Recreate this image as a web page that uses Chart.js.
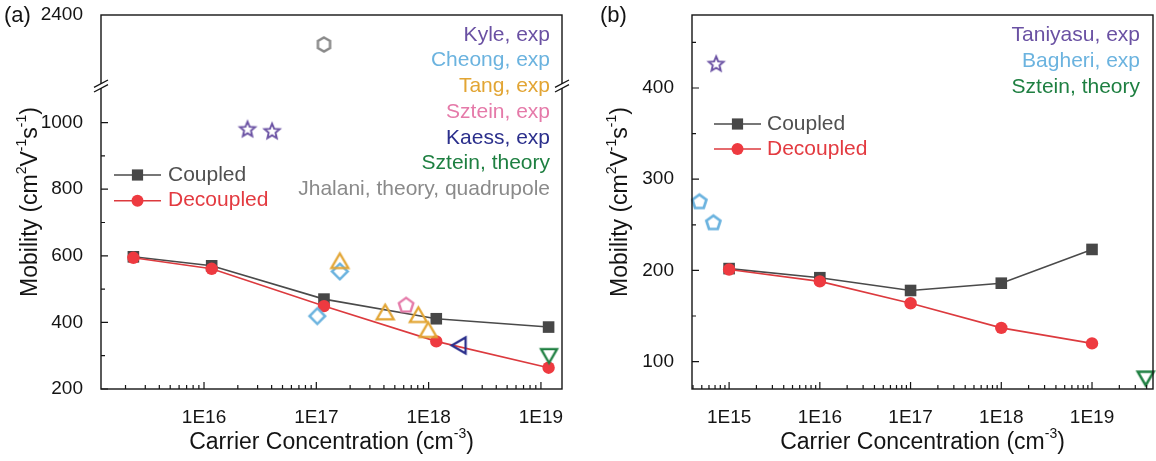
<!DOCTYPE html>
<html>
<head>
<meta charset="utf-8">
<script src="https://cdn.jsdelivr.net/npm/chart.js@4.4.1/dist/chart.umd.min.js"></script>
<style>
    html, body { margin: 0; padding: 0; background: #fff; }
    #wrap { position: relative; width: 1156px; height: 461px; }
    .panel { position: absolute; top: 0; width: 578px; height: 461px; }
</style>
</head>
<body>
<div id="wrap">
    <div class="panel" style="left:0"><canvas id="chartA" width="578" height="461"></canvas></div>
    <div class="panel" style="left:578px"><canvas id="chartB" width="578" height="461"></canvas></div>
</div>
<script>
// ---- panel (a) ----
const concA = [2.35e15, 1.17e16, 1.17e17, 1.17e18, 1.17e19];
const coupledA = [597, 570, 470, 411, 386];
const decoupledA = [594, 561, 449, 343, 264];

const kyleX = [2.44e16, 4.04e16];        const kyleY = [979, 973];
const cheongX = [1.02e17, 1.62e17];      const cheongY = [419, 553];
const tangX = [1.62e17, 4.1e17, 8.1e17, 9.9e17];
const tangY = [578, 424, 416, 371];
const szteinExpX = [6.3e17];             const szteinExpY = [451];
const kaessX = [1.94e18];                const kaessY = [331];
const szteinThX = [1.18e19];             const szteinThY = [306];
const jhalaniX = [1.17e17];              const jhalaniY = [2317];

const xTicksA = [1e16, 1e17, 1e18, 1e19];
const xTickLabelsA = ['1E16', '1E17', '1E18', '1E19'];
const yTicksA = [200, 400, 600, 800, 1000];
const yMinorA = [300, 500, 700, 900];
const yTicksTopA = [2400];

// ---- panel (b) ----
const concB = [1e15, 1e16, 1e17, 1e18, 1e19];
const coupledB = [202, 192, 178, 186, 223];
const decoupledB = [201, 188, 164, 137, 120];

const taniyasuX = [7.2e14];              const taniyasuY = [426];
const bagheriX = [4.7e14, 6.7e14];       const bagheriY = [275, 252];
const szteinThBX = [3.9e19];             const szteinThBY = [84];

const xTicksB = [1e15, 1e16, 1e17, 1e18, 1e19];
const xTickLabelsB = ['1E15', '1E16', '1E17', '1E18', '1E19'];
const yTicksB = [100, 200, 300, 400];
const yMinorB = [150, 250, 350, 450];

const FONT = "'Liberation Sans', Arial, Helvetica, sans-serif";
const INK = '#141414';
const C_PURPLE = '#6a51a3';
const C_LBLUE = '#6bb3df';
const C_GOLD = '#e2a534';
const C_PINK = '#e57aa9';
const C_NAVY = '#2b2f8c';
const C_GREEN = '#1e7f41';
const C_GRAY = '#8a8a8a';
const C_DARK = '#4a4a4a';
const C_RED = '#ee3a40';

function pts(xs, ys) {
    return xs.map((x, i) => ({ x: x, y: ys[i] }));
}

function minorLog(min, max) {
    const out = [];
    for (let e = Math.floor(Math.log10(min)); e <= Math.ceil(Math.log10(max)); e++) {
        for (let k = 2; k <= 9; k++) {
            const v = k * Math.pow(10, e);
            if (v > min && v < max) out.push(v);
        }
    }
    return out;
}

// hollow marker drawn on a small canvas, used as pointStyle
function marker(kind, color, r, lw) {
    const s = Math.ceil(2 * r + 2 * lw + 4);
    const c = document.createElement('canvas');
    c.width = s; c.height = s;
    const g = c.getContext('2d');
    g.translate(s / 2, s / 2);
    g.strokeStyle = color;
    g.lineWidth = lw;
    g.lineJoin = 'miter';
    g.beginPath();
    const poly = { hex: [6, -90], pent: [5, -90], diamond: [4, -90], triUp: [3, -90], triDown: [3, 90], triLeft: [3, 180] };
    if (kind === 'star') {
        for (let i = 0; i < 10; i++) {
            const rr = i % 2 ? r * 0.45 : r;
            const a = -Math.PI / 2 + i * Math.PI / 5;
            g.lineTo(rr * Math.cos(a), rr * Math.sin(a));
        }
    } else {
        const n = poly[kind][0], a0 = poly[kind][1] * Math.PI / 180;
        for (let i = 0; i < n; i++) {
            const a = a0 + i * 2 * Math.PI / n;
            g.lineTo(r * Math.cos(a), r * Math.sin(a));
        }
    }
    g.closePath();
    g.stroke();
    return c;
}

function scatterSet(xs, ys, style, axis) {
    return {
        data: pts(xs, ys),
        yAxisID: axis || 'y',
        showLine: false,
        clip: false,
        pointStyle: style,
        pointRadius: 8,
        pointHoverRadius: 8
    };
}

function seriesSets(xs, coupled, decoupled) {
    return [
        {
            label: 'Decoupled',
            data: pts(xs, decoupled),
            yAxisID: 'y',
            showLine: true,
            borderColor: '#dc3a3e',
            borderWidth: 1.6,
            pointStyle: 'circle',
            pointRadius: 6.2,
            pointBackgroundColor: C_RED,
            pointBorderColor: C_RED,
            pointBorderWidth: 0
        },
        {
            label: 'Coupled',
            data: pts(xs, coupled),
            yAxisID: 'y',
            showLine: true,
            borderColor: C_DARK,
            borderWidth: 1.6,
            pointStyle: 'rect',
            pointRadius: 8.2,
            pointBackgroundColor: '#474747',
            pointBorderColor: '#474747',
            pointBorderWidth: 0
        }
    ];
}

// text with superscripts: parts = [[text, isSup], ...]
function richText(ctx, parts, x, y, size, rotate) {
    ctx.save();
    ctx.translate(x, y);
    if (rotate) ctx.rotate(-Math.PI / 2);
    const big = size + 'px ' + FONT;
    const small = Math.round(size * 0.62) + 'px ' + FONT;
    let total = 0;
    parts.forEach(p => { ctx.font = p[1] ? small : big; total += ctx.measureText(p[0]).width; });
    let cx = -total / 2;
    ctx.fillStyle = INK;
    ctx.textBaseline = 'middle';
    ctx.textAlign = 'left';
    parts.forEach(p => {
        ctx.font = p[1] ? small : big;
        ctx.fillText(p[0], cx, p[1] ? -size * 0.38 : 0);
        cx += ctx.measureText(p[0]).width;
    });
    ctx.restore();
}

const yTitle = [['Mobility (cm', 0], ['2', 1], ['V', 0], ['-1', 1], ['s', 0], ['-1', 1], [')', 0]];
const xTitle = [['Carrier Concentration (cm', 0], ['-3', 1], [')', 0]];

const framePlugin = {
    id: 'frame',
    afterDraw(chart, args, o) {
        const ctx = chart.ctx;
        const a = chart.chartArea;
        const sx = chart.scales.x;
        ctx.save();
        ctx.strokeStyle = INK;
        ctx.lineWidth = 1.4;
        ctx.strokeRect(a.left, a.top, a.right - a.left, a.bottom - a.top);

        // inward ticks
        ctx.lineWidth = 1.2;
        ctx.beginPath();
        o.xMajor.forEach(v => { const p = sx.getPixelForValue(v); ctx.moveTo(p, a.bottom); ctx.lineTo(p, a.bottom - 7); });
        minorLog(sx.min, sx.max).forEach(v => { const p = sx.getPixelForValue(v); ctx.moveTo(p, a.bottom); ctx.lineTo(p, a.bottom - 4); });
        const sy = chart.scales.y;
        o.yMajor.forEach(v => { const p = sy.getPixelForValue(v); ctx.moveTo(a.left, p); ctx.lineTo(a.left + 7, p); });
        o.yMinor.forEach(v => { const p = sy.getPixelForValue(v); ctx.moveTo(a.left, p); ctx.lineTo(a.left + 4, p); });
        ctx.stroke();

        // axis break marks
        if (o.brk) {
            const yb = sy.top;
            [a.left, a.right].forEach(x => {
                ctx.strokeStyle = '#fff';
                ctx.lineWidth = 3;
                ctx.beginPath();
                ctx.moveTo(x, yb - 2); ctx.lineTo(x, yb + 2);
                ctx.stroke();
                ctx.strokeStyle = INK;
                ctx.lineWidth = 1.3;
                ctx.beginPath();
                ctx.moveTo(x - 7, yb + 1.3); ctx.lineTo(x + 7, yb - 6);
                ctx.moveTo(x - 7, yb + 6); ctx.lineTo(x + 7, yb - 1.3);
                ctx.stroke();
            });
        }

        // colored source notes
        ctx.font = '21px ' + FONT;
        ctx.textAlign = 'right';
        ctx.textBaseline = 'middle';
        o.notes.forEach((n, i) => {
            ctx.fillStyle = n[1];
            ctx.fillText(n[0], o.notesX, o.notesY + i * o.notesStep);
        });

        // series legend
        const lg = o.legend;
        [['Coupled', C_DARK, '#474747', 'rect'], ['Decoupled', '#dc3a3e', C_RED, 'circle']].forEach((e, i) => {
            const y = lg.y + i * lg.step;
            ctx.strokeStyle = e[1];
            ctx.lineWidth = 1.6;
            ctx.beginPath();
            ctx.moveTo(lg.x1, y); ctx.lineTo(lg.x2, y);
            ctx.stroke();
            ctx.fillStyle = e[2];
            const mx = (lg.x1 + lg.x2) / 2;
            ctx.beginPath();
            if (e[3] === 'rect') ctx.rect(mx - 5.6, y - 5.6, 11.2, 11.2);
            else ctx.arc(mx, y, 6, 0, Math.PI * 2);
            ctx.fill();
            ctx.fillStyle = i === 0 ? '#505050' : '#e33a40';
            ctx.textAlign = 'left';
            ctx.font = '21px ' + FONT;
            ctx.fillText(e[0], lg.tx, y);
        });

        // panel label and axis titles
        ctx.fillStyle = INK;
        ctx.font = '22px ' + FONT;
        ctx.textAlign = 'left';
        ctx.fillText(o.tag, o.tagX, 16);
        richText(ctx, yTitle, o.yTitleX, (a.top + a.bottom) / 2, 23, true);
        richText(ctx, xTitle, (a.left + a.right) / 2, 443, 23, false);
        ctx.restore();
    }
};

function tickFont() {
    return { family: FONT, size: 19 };
}

function logX(min, max, values, labels) {
    return {
        type: 'logarithmic',
        min: min,
        max: max,
        afterBuildTicks: s => { s.ticks = values.map(v => ({ value: v })); },
        afterFit: s => { s.height = 72; s.paddingLeft = 0; s.paddingRight = 0; },
        ticks: {
            autoSkip: false, maxRotation: 0, padding: 9, color: INK, font: tickFont(),
            callback: v => labels[values.indexOf(v)]
        },
        grid: { display: false },
        border: { display: false }
    };
}

function linY(min, max, values, width, extra) {
    return Object.assign({
        type: 'linear',
        position: 'left',
        min: min,
        max: max,
        afterBuildTicks: s => { s.ticks = values.map(v => ({ value: v })); },
        afterFit: s => { s.width = width; s.paddingTop = 0; s.paddingBottom = 0; },
        ticks: { padding: 10, color: INK, font: tickFont(), callback: v => String(v) },
        grid: { display: false },
        border: { display: false }
    }, extra || {});
}

new Chart(document.getElementById('chartA'), {
    type: 'scatter',
    data: {
        datasets: [
            scatterSet(tangX, tangY, marker('triUp', C_GOLD, 9.8, 2.3)),
            scatterSet(cheongX, cheongY, marker('diamond', C_LBLUE, 7.8, 2.5)),
            scatterSet(kyleX, kyleY, marker('star', C_PURPLE, 8, 1.9)),
            scatterSet(szteinExpX, szteinExpY, marker('pent', C_PINK, 7.6, 2.4)),
            scatterSet(kaessX, kaessY, marker('triLeft', C_NAVY, 9.2, 2.3)),
            scatterSet(szteinThX, szteinThY, marker('triDown', C_GREEN, 9.2, 2.3)),
            scatterSet(jhalaniX, jhalaniY, marker('hex', C_GRAY, 7, 2.5), 'yTop')
        ].concat(seriesSets(concA, coupledA, decoupledA))
    },
    options: {
        responsive: false,
        animation: false,
        layout: { autoPadding: false, padding: { top: 15, right: 16, left: 0, bottom: 0 } },
        plugins: {
            legend: { display: false },
            tooltip: { enabled: false },
            frame: {
                xMajor: xTicksA, yMajor: yTicksA, yMinor: yMinorA, brk: true,
                notes: [['Kyle, exp', C_PURPLE], ['Cheong, exp', C_LBLUE], ['Tang, exp', C_GOLD],
                        ['Sztein, exp', C_PINK], ['Kaess, exp', C_NAVY], ['Sztein, theory', C_GREEN],
                        ['Jhalani, theory, quadrupole', C_GRAY]],
                notesX: 550, notesY: 35, notesStep: 25.7,
                legend: { x1: 114, x2: 161, y: 175, step: 25.7, tx: 168 },
                tag: '(a)', tagX: 4, yTitleX: 31
            }
        },
        scales: {
            y: linY(200, 1110, yTicksA, 101, { stack: 'brk', stackWeight: 303 }),
            yTop: linY(2200, 2400, yTicksTopA, 101, { stack: 'brk', stackWeight: 71 }),
            x: logX(1.21e15, 1.54e19, xTicksA, xTickLabelsA)
        }
    },
    plugins: [framePlugin]
});

new Chart(document.getElementById('chartB'), {
    type: 'scatter',
    data: {
        datasets: [
            scatterSet(taniyasuX, taniyasuY, marker('star', C_PURPLE, 7.8, 1.9)),
            scatterSet(bagheriX, bagheriY, marker('pent', C_LBLUE, 7.4, 2.7)),
            scatterSet(szteinThBX, szteinThBY, marker('triDown', C_GREEN, 9.2, 2.5))
        ].concat(seriesSets(concB, coupledB, decoupledB))
    },
    options: {
        responsive: false,
        animation: false,
        layout: { autoPadding: false, padding: { top: 15, right: 3, left: 0, bottom: 0 } },
        plugins: {
            legend: { display: false },
            tooltip: { enabled: false },
            frame: {
                xMajor: xTicksB, yMajor: yTicksB, yMinor: yMinorB, brk: false,
                notes: [['Taniyasu, exp', C_PURPLE], ['Bagheri, exp', C_LBLUE], ['Sztein, theory', C_GREEN]],
                notesX: 562, notesY: 35, notesStep: 26,
                legend: { x1: 136, x2: 183, y: 124, step: 25, tx: 189 },
                tag: '(b)', tagX: 22, yTitleX: 43
            }
        },
        scales: {
            y: linY(70, 480, yTicksB, 114),
            x: logX(3.9e14, 4.7e19, xTicksB, xTickLabelsB)
        }
    },
    plugins: [framePlugin]
});
</script>
</body>
</html>
